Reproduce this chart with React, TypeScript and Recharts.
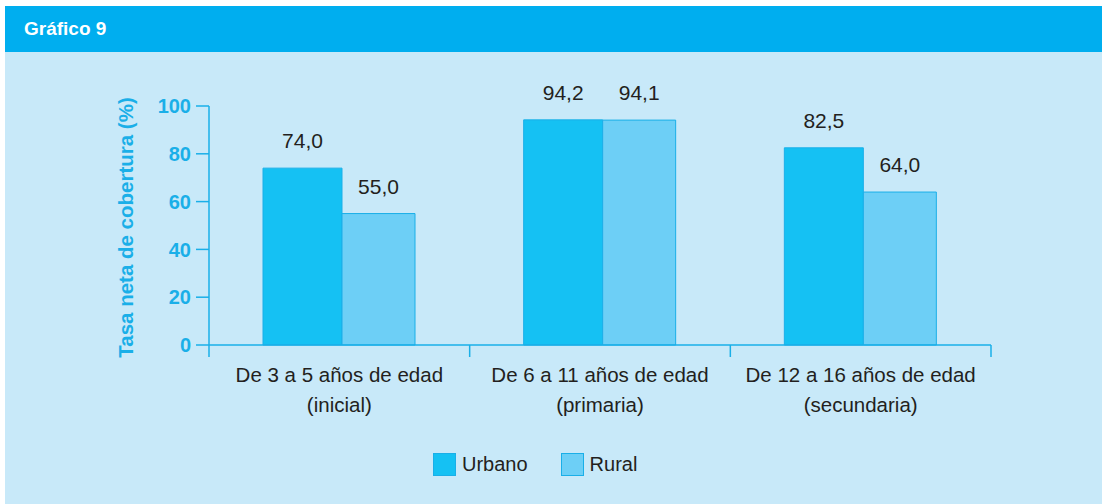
import { BarChart, Bar, XAxis, YAxis, Legend, LabelList } from 'recharts';

const categories = ['De 3 a 5 años de edad|(inicial)', 'De 6 a 11 años de edad|(primaria)', 'De 12 a 16 años de edad|(secundaria)'];
const urbano = [74.0, 94.2, 82.5];
const rural = [55.0, 94.1, 64.0];
const yTicks = [0, 20, 40, 60, 80, 100];

const data = categories.map((name, i) => ({ name, urbano: urbano[i], rural: rural[i] }));

const BLUE = '#1AAFE8';
const TEXT = '#231F20';
const FONT = '"Liberation Sans", Arial, sans-serif';

const W = 1097;
const H = 452;
const MARGIN = { top: 54, right: 111, bottom: 79, left: 110 };
const Y_W = 94;
const BAND = (W - MARGIN.left - MARGIN.right - Y_W) / categories.length;

const fmt = (v: any) => Number(v).toFixed(1).replace('.', ',');

const CatTick = (props: any) => {
  const { x, y, payload, index } = props;
  const [l1, l2] = String(payload.value).split('|');
  const half = BAND / 2;
  return (
    <g>
      <line x1={x - half} y1={y} x2={x - half} y2={y + 12} stroke={BLUE} strokeWidth={1.5} />
      {index === categories.length - 1 && (
        <line x1={x + half} y1={y} x2={x + half} y2={y + 12} stroke={BLUE} strokeWidth={1.5} />
      )}
      <text x={x} y={y + 37} textAnchor="middle" fontSize={20.5} fill={TEXT} fontFamily={FONT}>{l1}</text>
      <text x={x} y={y + 67} textAnchor="middle" fontSize={20.5} fill={TEXT} fontFamily={FONT}>{l2}</text>
    </g>
  );
};

const YLabel = (props: any) => {
  const vb = props.viewBox;
  const cx = vb.x + 10;
  const cy = vb.y + vb.height / 2 + 2;
  return (
    <text x={cx} y={cy} transform={`rotate(-90 ${cx} ${cy})`} textAnchor="middle" dominantBaseline="central"
      fontSize={20.5} fontWeight="bold" fill={BLUE} fontFamily={FONT}>
      Tasa neta de cobertura (%)
    </text>
  );
};

const LegendBox = () => (
  <div style={{ display: 'flex', alignItems: 'center', fontFamily: FONT, fontSize: 20, color: TEXT }}>
    <span style={{ width: 21, height: 21, background: '#15C1F3', border: `1px solid ${BLUE}`, display: 'inline-block' }} />
    <span style={{ marginLeft: 6 }}>Urbano</span>
    <span style={{ width: 21, height: 21, background: '#6DCFF6', border: `1px solid ${BLUE}`, display: 'inline-block', marginLeft: 33 }} />
    <span style={{ marginLeft: 6 }}>Rural</span>
  </div>
);

export default function App() {
  return (
    <div style={{ position: 'absolute', left: 0, top: 0, width: 1102, height: 504, background: '#fff' }}>
      <div style={{ position: 'absolute', left: 5, top: 6, width: 1097, height: 46, background: '#00AEEF' }}>
        <span style={{ position: 'absolute', left: 19, top: 12, color: '#fff', fontWeight: 'bold', fontSize: 19, fontFamily: FONT }}>Gráfico 9</span>
      </div>
      <div style={{ position: 'absolute', left: 5, top: 52, width: W, height: H, background: '#C8E9F9' }}>
        <BarChart width={W} height={H} data={data} margin={MARGIN} barGap={0}>
          <XAxis dataKey="name" height={80} axisLine={{ stroke: BLUE, strokeWidth: 1.5 }} tickLine={false}
            tickSize={0} tickMargin={0} tick={<CatTick />} interval={0} />
          <YAxis width={Y_W} domain={[0, 100]} ticks={yTicks} tickSize={13} tickMargin={5}
            axisLine={{ stroke: BLUE, strokeWidth: 1.5 }} tickLine={{ stroke: BLUE, strokeWidth: 1.5 }}
            tick={{ fill: BLUE, fontSize: 20, fontWeight: 'bold', fontFamily: FONT }}
            label={{ content: YLabel }} />
          <Legend verticalAlign="middle" content={<LegendBox />} wrapperStyle={{ top: 401, left: 428, width: 'auto' }} />
          <Bar dataKey="urbano" name="Urbano" fill="#15C1F3" stroke={BLUE} strokeWidth={1} barSize={79} isAnimationActive={false}>
            <LabelList dataKey="urbano" position="top" offset={20} formatter={fmt} fill={TEXT} fontSize={21} fontFamily={FONT} />
          </Bar>
          <Bar dataKey="rural" name="Rural" fill="#6DCFF6" stroke={BLUE} strokeWidth={1} barSize={73} isAnimationActive={false}>
            <LabelList dataKey="rural" position="top" offset={20} formatter={fmt} fill={TEXT} fontSize={21} fontFamily={FONT} />
          </Bar>
        </BarChart>
      </div>
    </div>
  );
}
